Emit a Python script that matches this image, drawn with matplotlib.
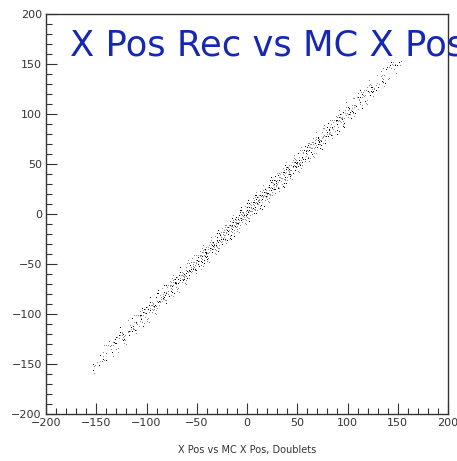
import numpy as np
import matplotlib
matplotlib.use("Agg")
import matplotlib.pyplot as plt
from matplotlib.ticker import MultipleLocator

# MC X position of each hit cluster along the detector, and hits per cluster
cluster_x = [-150 + 7.5 * k for k in range(41)]
cluster_hits = [8, 10, 12, 14, 16, 18, 20, 22, 22, 24, 24, 26, 26, 28, 28, 30, 30,
                32, 32, 34, 34, 34, 32, 32, 30, 30, 28, 28, 26, 26, 24, 24, 22, 22,
                20, 18, 16, 14, 12, 10, 8]

# spread of MC x inside a cluster and residual (rec - MC), in cm
hit_dx = [-3.1, 0.4, 2.7, -1.2, 1.8, -2.4, 3.5, -0.3, 0.9, -3.6, 2.2, -1.7, 1.1, -0.8,
          3.0, -2.0, 0.2, -3.3, 2.5, -1.0, 1.5, -2.7, 0.7, 3.8, -0.5, 1.9, -1.4, 2.9,
          -3.9, 0.0, 1.3, -2.2, 3.3, -0.9, 2.0, -1.9, 0.5, -3.0, 1.6, -0.2]
hit_res = [1.9, -4.0, 6.1, -1.0, 1.4, -5.9, -1.8, 3.5, 7.4, -2.9, -6.9, 5.0, -0.3, 0.8,
           2.7, -8.3, 10.2, 6.4, -4.3, -2.2, 4.5, 0.2, -5.3, 1.0, -10.9, 8.2, 3.0, -1.3,
           4.2, -1.4, 12.0, -3.4, 5.4, -6.2, 0.5, 9.0, 1.6, -0.6, -9.4, 5.8]

mc_x, rec_x = [], []
n_off = len(hit_dx)
for k, (c, n) in enumerate(zip(cluster_x, cluster_hits)):
    for j in range(n):
        i = (k * 7 + j * 3) % n_off
        x = c + hit_dx[i]
        mc_x.append(x)
        rec_x.append(x + hit_res[i])
mc_x = np.array(mc_x)
rec_x = np.array(rec_x)

fig = plt.figure(figsize=(4.57, 4.61), dpi=100)
ax = fig.add_axes([46 / 457, 47 / 461, 402 / 457, 400 / 461])

grey = np.arange(len(mc_x)) % 3 != 0
ax.plot(mc_x[grey], rec_x[grey], ",", color="#8a8a8a")
ax.plot(mc_x[~grey], rec_x[~grey], ",", color="black")

ax.set_xlim(-200, 200)
ax.set_ylim(-200, 200)
for a in (ax.xaxis, ax.yaxis):
    a.set_major_locator(MultipleLocator(50))
    a.set_minor_locator(MultipleLocator(10))
ax.tick_params(which="both", direction="in", top=False, right=False,
               labelsize=8, labelcolor="#333333", color="#333333", width=0.8)
ax.tick_params(which="major", length=8, pad=3)
ax.tick_params(which="minor", length=4)
for s in ax.spines.values():
    s.set_color("#333333")
    s.set_linewidth(1.0)

ax.set_xlabel("X Pos vs MC X Pos, Doublets", fontsize=7, color="#333333", labelpad=12)

fig.text(70 / 457, 1 - 56 / 461, "X Pos Rec vs MC X Pos", fontsize=25.5,
         color="#1428b4", ha="left", va="baseline")

fig.savefig("out.png", dpi=100, facecolor="white")
